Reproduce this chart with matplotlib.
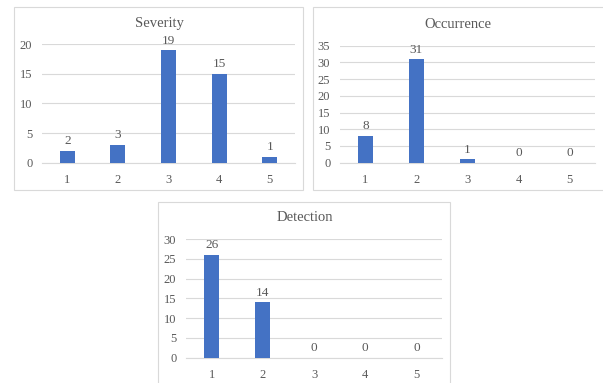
import matplotlib.pyplot as plt
from matplotlib.patches import Rectangle

# ratings 1..5 and counts per criterion
ratings = [1, 2, 3, 4, 5]
severity = [2, 3, 19, 15, 1]
occurrence = [8, 31, 1, 0, 0]
detection = [26, 14, 0, 0, 0]

BAR = '#4472C4'
TXT = '#595959'
GRID = '#D9D9D9'

plt.rcParams['font.family'] = ['Liberation Serif', 'DejaVu Serif']

W, H = 603, 383
fig = plt.figure(figsize=(W / 100, H / 100), dpi=100)


def px_box(x0, y0, x1, y1):
    # pixel box (top-left origin) -> figure fraction [left, bottom, width, height]
    return [x0 / W, 1 - y1 / H, (x1 - x0) / W, (y1 - y0) / H]


def panel(frame, plot, title, title_xy, values, ymax):
    l, b, w, h = px_box(*frame)
    fig.patches.append(Rectangle((l, b), w, h, transform=fig.transFigure,
                                 facecolor='none', edgecolor=GRID, lw=0.8, zorder=-1))
    ax = fig.add_axes(px_box(*plot))
    ax.bar(ratings, values, width=0.3, color=BAR, zorder=3)
    for x, v in zip(ratings, values):
        ax.annotate(str(v), (x, v), xytext=(0, 2.5), textcoords='offset points',
                    ha='center', va='bottom', fontsize=9.5, color=TXT)
    ax.set_xlim(0.5, 5.5)
    ax.set_ylim(0, ymax)
    ax.set_yticks(range(0, ymax + 1, 5))
    ax.set_xticks(ratings)
    ax.yaxis.grid(True, color=GRID, lw=0.8, zorder=0)
    ax.set_axisbelow(True)
    for s in ['top', 'right', 'left']:
        ax.spines[s].set_visible(False)
    ax.spines['bottom'].set_color(GRID)
    ax.spines['bottom'].set_linewidth(0.8)
    ax.tick_params(axis='both', length=0, labelsize=9, labelcolor=TXT)
    ax.tick_params(axis='y', pad=7)
    ax.tick_params(axis='x', pad=8)
    ax.set_facecolor('none')
    fig.text(title_xy[0] / W, 1 - title_xy[1] / H, title, ha='center', va='center',
             fontsize=10.5, color=TXT)
    return ax


panel((14, 7, 303, 190), (42, 44.3, 295, 162.7), 'Severity', (159, 24), severity, 20)
panel((313, 7, 604, 190), (340, 45.7, 595, 162.7), 'Occurrence', (458, 25), occurrence, 35)
panel((158, 202, 450, 384), (186, 239, 442, 357.7), 'Detection', (305, 218), detection, 30)

fig.savefig('out.png', dpi=100)
